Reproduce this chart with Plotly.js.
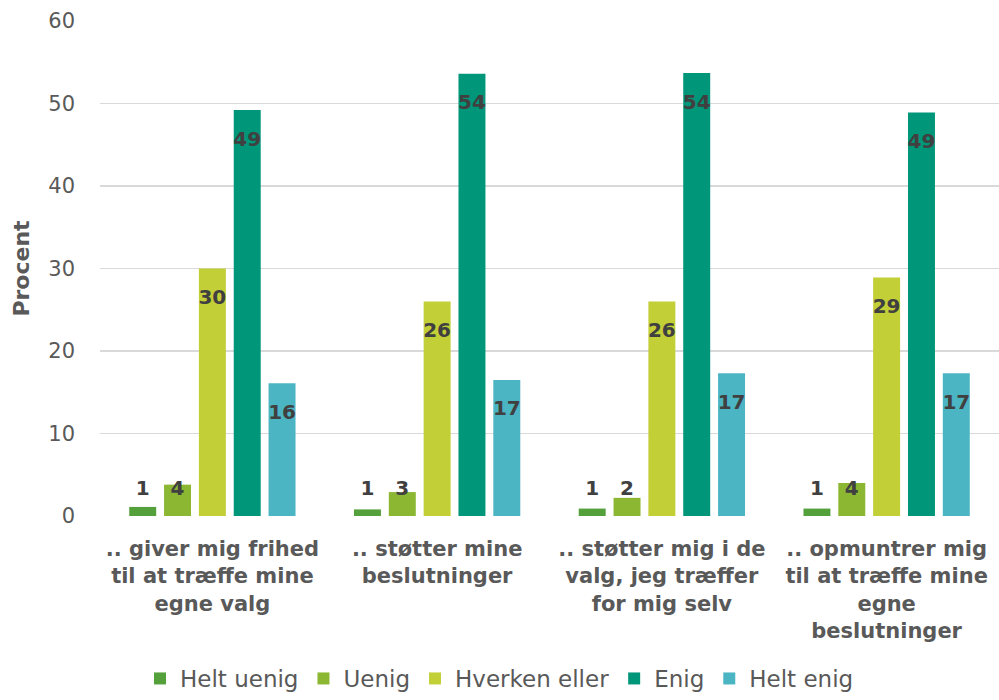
<!DOCTYPE html>
<html>
<head>
<meta charset="utf-8">
<script src="https://cdn.plot.ly/plotly-3.0.1.min.js"></script>
<style>html,body{margin:0;padding:0;background:#fff;}#chart{width:999px;height:700px;}</style>
</head>
<body>
<div id="chart"></div>
<script>
const categories = [
  ".. giver mig frihed<br>til at træffe mine<br>egne valg",
  ".. støtter mine<br>beslutninger",
  ".. støtter mig i de<br>valg, jeg træffer<br>for mig selv",
  ".. opmuntrer mig<br>til at træffe mine<br>egne<br>beslutninger"
];
const seriesNames = ["Helt uenig", "Uenig", "Hverken eller", "Enig", "Helt enig"];
const heltUenig = [1.1, 0.8, 0.9, 0.9];
const uenig = [3.8, 2.9, 2.2, 4.0];
const hverken = [30.0, 26.0, 26.0, 28.9];
const enig = [49.2, 53.6, 53.7, 48.9];
const heltEnig = [16.1, 16.5, 17.3, 17.3];
const labelsHeltUenig = ["1", "1", "1", "1"];
const labelsUenig = ["4", "3", "2", "4"];
const labelsHverken = ["30", "26", "26", "29"];
const labelsEnig = ["49", "54", "54", "49"];
const labelsHeltEnig = ["16", "17", "17", "17"];
const yTicks = [0, 10, 20, 30, 40, 50, 60];

const colors = ["#54a03b", "#8bb733", "#c3cf37", "#00967a", "#4bb5c4"];
const values = [heltUenig, uenig, hverken, enig, heltEnig];
const labels = [labelsHeltUenig, labelsUenig, labelsHverken, labelsEnig, labelsHeltEnig];
const FONT = "DejaVu Sans, sans-serif";
const step = 0.155, bw = 0.12;
const idx = categories.map((_, i) => i);

const traces = [];
values.forEach((vals, k) => {
  const xs = idx.map(i => i + (k - 2) * step);
  traces.push({
    type: "bar", name: seriesNames[k], x: xs, y: vals, width: bw,
    marker: {color: colors[k]}, hoverinfo: "y"
  });
});
values.forEach((vals, k) => {
  const xs = idx.map(i => i + (k - 2) * step);
  traces.push({
    type: "scatter", mode: "text", showlegend: false, hoverinfo: "skip",
    x: xs, y: vals.map(v => Math.max(v - 3.7, 3.2)), text: labels[k],
    textfont: {family: FONT, size: 20, color: "#404040", weight: "bold"},
    textposition: "middle center", cliponaxis: false
  });
});

const layout = {
  width: 999, height: 700,
  margin: {l: 100, r: 0, t: 21, b: 184},
  paper_bgcolor: "#fff", plot_bgcolor: "#fff",
  barmode: "overlay",
  font: {family: FONT, color: "#595959"},
  showlegend: true,
  legend: {orientation: "h", x: 0.5, xanchor: "center", xref: "container", yref: "container",
    y: -0.012, yanchor: "bottom",
    font: {family: FONT, size: 23, color: "#595959"}, itemwidth: 30, traceorder: "normal"},
  xaxis: {range: [-0.5, 3.5], tickvals: idx, ticktext: categories, showgrid: false,
    zeroline: false, showline: false, ticks: "", fixedrange: true, automargin: false,
    ticklabelstandoff: 18,
    tickfont: {family: FONT, size: 21, color: "#595959", weight: "bold"}},
  yaxis: {range: [0, 60], tickvals: yTicks, showgrid: true, gridcolor: "#d9d9d9", gridwidth: 1.5,
    zeroline: false, showline: false, ticks: "", ticklabelstandoff: 24, automargin: false,
    tickfont: {family: FONT, size: 21, color: "#595959"},
    title: {text: "Procent", font: {family: FONT, size: 22, color: "#595959", weight: "bold"}, standoff: 12}}
};
Plotly.newPlot("chart", traces, layout, {staticPlot: true, displayModeBar: false});
</script>
</body>
</html>
